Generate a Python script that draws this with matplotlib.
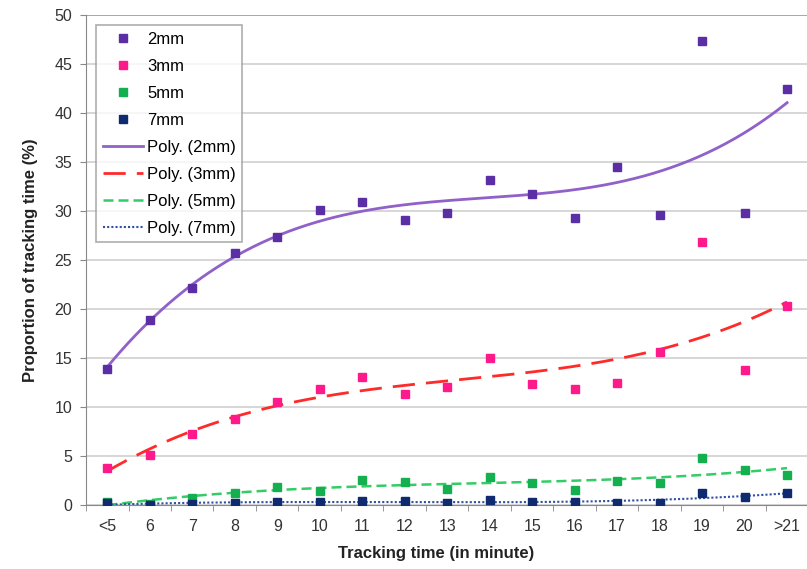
import numpy as np
import matplotlib
matplotlib.use("Agg")
import matplotlib.pyplot as plt

plt.rcParams['font.family'] = ['Liberation Sans', 'DejaVu Sans']

categories = ["<5", "6", "7", "8", "9", "10", "11", "12", "13", "14",
              "15", "16", "17", "18", "19", "20", ">21"]
mm2 = [13.9, 18.9, 22.1, 25.7, 27.3, 30.1, 30.9, 29.1, 29.8, 33.2,
       31.7, 29.3, 34.5, 29.6, 47.4, 29.8, 42.5]
mm3 = [3.8, 5.1, 7.2, 8.8, 10.5, 11.8, 13.1, 11.3, 12.0, 15.0,
       12.3, 11.8, 12.4, 15.6, 26.8, 13.8, 20.3]
mm5 = [0.3, 0.1, 0.7, 1.2, 1.8, 1.4, 2.6, 2.3, 1.6, 2.9,
       2.2, 1.5, 2.4, 2.2, 4.8, 3.6, 3.1]
mm7 = [0.2, 0.0, 0.1, 0.2, 0.3, 0.3, 0.4, 0.4, 0.2, 0.5,
       0.3, 0.3, 0.2, 0.2, 1.2, 0.8, 1.2]

series = [
    ("2mm", mm2, "#5b2ea6", "#9061c8", "-", 2.0),
    ("3mm", mm3, "#ff1a8c", "#ff2a2a", (0, (8, 4)), 2.0),
    ("5mm", mm5, "#14b04f", "#33cc66", (0, (4, 2)), 1.8),
    ("7mm", mm7, "#0f2a6e", "#3050a0", (0, (1, 1)), 1.5),
]

fig = plt.figure(figsize=(8.07, 5.69), dpi=100)
ax = fig.add_axes([0.1066, 0.1125, 0.895, 0.861])

x = np.arange(len(categories))
xs = np.linspace(0, len(categories) - 1, 300)

for name, vals, mcol, lcol, ls, lw in series:
    ax.plot(x, vals, linestyle="none", marker="s", markersize=6,
            color=mcol, markeredgecolor=mcol, label=name, zorder=3)
for name, vals, mcol, lcol, ls, lw in series:
    # third-order polynomial trend line
    coef = np.polyfit(x, vals, 3)
    ax.plot(xs, np.polyval(coef, xs), linestyle=ls, color=lcol, lw=lw,
            label="Poly. (%s)" % name, zorder=2)

ax.set_xlim(-0.5, len(categories) - 0.5)
ax.set_ylim(0, 50)
ax.set_yticks(range(0, 51, 5))
ax.set_xticks(x)
ax.set_xticklabels(categories)
ax.set_xticks(np.arange(-0.5, len(categories), 1), minor=True)
ax.tick_params(axis="x", which="major", length=0, pad=10)
ax.tick_params(axis="x", which="minor", length=4, color="#888888")
ax.tick_params(axis="y", length=4, color="#888888", pad=6)
ax.tick_params(labelsize=11.5, labelcolor="#333333")

ax.grid(axis="y", color="#cfcfcf", lw=1.2)
ax.axhline(50, color="#a0a0a0", lw=1.2, zorder=1)
ax.set_axisbelow(True)
for side in ["top", "right"]:
    ax.spines[side].set_visible(False)
for side in ["left", "bottom"]:
    ax.spines[side].set_color("#888888")

ax.set_xlabel("Tracking time (in minute)", fontsize=12, fontweight="bold",
              color="#222222")
ax.xaxis.set_label_coords(0.485, -0.083)
ax.set_ylabel("Proportion of tracking time (%)", fontsize=12,
              fontweight="bold", color="#222222", labelpad=12)

leg = ax.legend(loc="upper left", bbox_to_anchor=(0.007, 0.99), fontsize=12,
                frameon=True, fancybox=False, edgecolor="#999999",
                handlelength=2.4, handletextpad=0.25, labelspacing=0.72,
                borderaxespad=0.3, borderpad=0.4)
leg.get_frame().set_linewidth(1.2)

fig.savefig("out.png", dpi=100)
